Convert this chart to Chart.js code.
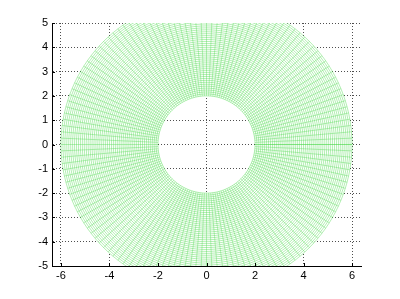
<!DOCTYPE html>
<html>
<head>
<meta charset="utf-8">
<script src="https://cdn.jsdelivr.net/npm/chart.js@4.4.1/dist/chart.umd.min.js"></script>
<style>
html,body{margin:0;padding:0;background:#fff;}
#wrap{width:400px;height:299px;}
</style>
</head>
<body>
<div id="wrap"><canvas id="c" width="400" height="299"></canvas></div>
<script>
// Mesh grid (polar): ring radii and spoke angles (degrees)
const ringRadii = [2.00,2.08,2.16,2.24,2.32,2.40,2.48,2.56,2.64,2.72,2.80,2.88,2.96,3.04,3.12,3.20,3.28,3.36,3.44,3.52,3.60,3.68,3.76,3.84,3.92,4.00,4.08,4.16,4.24,4.32,4.40,4.48,4.56,4.64,4.72,4.80,4.88,4.96,5.04,5.12,5.20,5.28,5.36,5.44,5.52,5.60,5.68,5.76,5.84,5.92,6.00];
const spokeAngles = [0,2.5,5,7.5,10,12.5,15,17.5,20,22.5,25,27.5,30,32.5,35,37.5,40,42.5,45,47.5,50,52.5,55,57.5,60,62.5,65,67.5,70,72.5,75,77.5,80,82.5,85,87.5,90,92.5,95,97.5,100,102.5,105,107.5,110,112.5,115,117.5,120,122.5,125,127.5,130,132.5,135,137.5,140,142.5,145,147.5,150,152.5,155,157.5,160,162.5,165,167.5,170,172.5,175,177.5,180,182.5,185,187.5,190,192.5,195,197.5,200,202.5,205,207.5,210,212.5,215,217.5,220,222.5,225,227.5,230,232.5,235,237.5,240,242.5,245,247.5,250,252.5,255,257.5,260,262.5,265,267.5,270,272.5,275,277.5,280,282.5,285,287.5,290,292.5,295,297.5,300,302.5,305,307.5,310,312.5,315,317.5,320,322.5,325,327.5,330,332.5,335,337.5,340,342.5,345,347.5,350,352.5,355,357.5,360];
const xTickLabels = [-6,-4,-2,0,2,4,6];
const yTickLabels = [-5,-4,-3,-2,-1,0,1,2,3,4,5];
const xLimits = [-6.37, 6.37];
const yLimits = [-5, 5];

const ringColor = 'rgba(40,210,40,0.5)';
const spokeColor = 'rgba(40,210,40,0.45)';
const meshWidth = 0.7;

function polarPoint(r, deg) {
  const t = deg * Math.PI / 180;
  return {x: r * Math.cos(t), y: r * Math.sin(t)};
}

const lineStyle = {
  showLine: true, borderWidth: meshWidth, borderDash: [10000, 0],
  pointRadius: 0, pointHoverRadius: 0, tension: 0, fill: false
};

const datasets = [];
ringRadii.forEach(r => {
  datasets.push(Object.assign({
    data: spokeAngles.map(a => polarPoint(r, a)),
    borderColor: ringColor
  }, lineStyle));
});
const rMin = ringRadii[0], rMax = ringRadii[ringRadii.length - 1];
spokeAngles.forEach(a => {
  datasets.push(Object.assign({
    data: [polarPoint(rMin, a), polarPoint(rMax, a)],
    borderColor: spokeColor
  }, lineStyle));
});

// white faces of the mesh (hide grid behind the surface)
const facePlugin = {
  id: 'faces',
  beforeDatasetsDraw(chart) {
    const {ctx, chartArea, scales: {x, y}} = chart;
    const cx = x.getPixelForValue(0), cy = y.getPixelForValue(0);
    const ro = x.getPixelForValue(rMax) - cx;
    const ri = x.getPixelForValue(rMin) - cx;
    ctx.save();
    ctx.beginPath();
    ctx.rect(chartArea.left, chartArea.top, chartArea.right - chartArea.left, chartArea.bottom - chartArea.top);
    ctx.clip();
    ctx.beginPath();
    ctx.arc(cx, cy, ro, 0, Math.PI * 2, false);
    ctx.arc(cx, cy, ri, 0, Math.PI * 2, true);
    ctx.fillStyle = '#ffffff';
    ctx.fill('nonzero');
    ctx.restore();
  }
};

// inward tick marks on left and bottom axes
const tickPlugin = {
  id: 'inTicks',
  afterDraw(chart) {
    const {ctx, chartArea, scales: {x, y}} = chart;
    ctx.save();
    ctx.strokeStyle = '#000';
    ctx.lineWidth = 1;
    ctx.beginPath();
    xTickLabels.forEach(v => {
      const px = Math.round(x.getPixelForValue(v)) + 0.5;
      ctx.moveTo(px, chartArea.bottom);
      ctx.lineTo(px, chartArea.bottom - 3);
    });
    yTickLabels.forEach(v => {
      const py = Math.round(y.getPixelForValue(v)) + 0.5;
      ctx.moveTo(chartArea.left, py);
      ctx.lineTo(chartArea.left + 3, py);
    });
    ctx.stroke();
    ctx.restore();
  }
};

const tickFont = {family: "'Liberation Sans', Arial, sans-serif", size: 11};

new Chart(document.getElementById('c'), {
  type: 'scatter',
  data: {datasets},
  options: {
    responsive: false,
    animation: false,
    events: [],
    layout: {padding: {left: 0, top: 23, right: 39, bottom: 0}},
    plugins: {legend: {display: false}, tooltip: {enabled: false}},
    scales: {
      x: {
        type: 'linear', min: xLimits[0], max: xLimits[1],
        afterBuildTicks: s => { s.ticks = xTickLabels.map(v => ({value: v})); },
        afterFit: s => { s.height = 33; },
        ticks: {color: '#000', font: tickFont, padding: 3, autoSkip: false, maxRotation: 0},
        grid: {color: 'rgba(60,60,60,0.9)', lineWidth: 1, drawTicks: false},
        border: {display: true, color: '#000', width: 1, dash: [1, 2]}
      },
      y: {
        type: 'linear', min: yLimits[0], max: yLimits[1],
        afterBuildTicks: s => { s.ticks = yTickLabels.map(v => ({value: v})); },
        afterFit: s => { s.width = 52; },
        ticks: {color: '#000', font: tickFont, padding: 4, autoSkip: false},
        grid: {color: 'rgba(60,60,60,0.9)', lineWidth: 1, drawTicks: false},
        border: {display: true, color: '#000', width: 1, dash: [1, 2]}
      }
    }
  },
  plugins: [facePlugin, tickPlugin]
});
</script>
</body>
</html>
